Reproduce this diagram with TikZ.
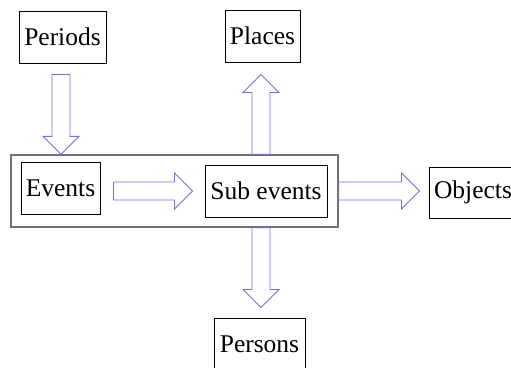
\documentclass[tikz,border=0pt]{standalone}
\usepackage{fontspec}
\setmainfont{Liberation Serif}
\newfontfamily\diafont{Liberation Serif}
\usetikzlibrary{calc}
\definecolor{arrowblue}{RGB}{112,112,214}
\definecolor{framegray}{RGB}{112,112,120}
\tikzset{
  box/.style={draw=black, line width=1pt, inner sep=0pt, font=\diafont\fontsize{25.5}{30}\selectfont},
  outerbox/.style={draw=framegray, line width=1.4pt, inner sep=0pt},
  arr/.style={draw=arrowblue, line width=0.9pt, line join=miter},
}
\begin{document}
\begin{tikzpicture}[x=1pt,y=1pt]
\useasboundingbox (0,0) rectangle (511,-367);
% nodes
\node[outerbox, minimum width=327pt, minimum height=72pt] (outer) at (174.5,-191) {};
\node[box, minimum width=87pt, minimum height=52pt] (periods) at (62.5,-37) {Periods};
\node[box, minimum width=75pt, minimum height=52pt] (places) at (262.5,-36) {Places};
\node[box, minimum width=79pt, minimum height=52pt] (events) at (60.5,-188) {Events};
\node[box, minimum width=122pt, minimum height=52pt] (sub) at (266,-191) {Sub events};
\node[box, minimum width=88pt, minimum height=51pt] (objects) at (473,-192.5) {Objects};
\node[box, minimum width=91pt, minimum height=52pt] (persons) at (259.5,-344) {Persons};
% arrow end points
\coordinate (a1s) at ($(periods.south)+(-1.5,-11)$);
\coordinate (a1e) at (a1s |- outer.north);
\coordinate (a2s) at ($(sub.north)+(-5,0)$);
\coordinate (a2s) at (a2s |- outer.north);
\coordinate (a2e) at ($(places.south)+(-1.5,-12)$);
\coordinate (a3s) at (a2s |- outer.south);
\coordinate (a3e) at ($(persons.north)+(1.5,10)$);
\coordinate (a3e) at (a2s |- a3e);
\coordinate (a4s) at ($(events.east)+(13,-3)$);
\coordinate (a4e) at ($(sub.west)+(-12,0)$);
\coordinate (a5s) at (outer.east |- sub.west);
\coordinate (a5e) at ($(objects.west)+(-9,1.5)$);
% down arrows
\draw[arr] ($(a1s)+(-9,0)$) -- ($(a1e)+(-9,18)$) -- ($(a1e)+(-18,18)$) -- (a1e)
  -- ($(a1e)+(18,18)$) -- ($(a1e)+(9,18)$) -- ($(a1s)+(9,0)$) -- cycle;
\draw[arr] ($(a3s)+(-9,0)$) -- ($(a3e)+(-9,18)$) -- ($(a3e)+(-18,18)$) -- (a3e)
  -- ($(a3e)+(18,18)$) -- ($(a3e)+(9,18)$) -- ($(a3s)+(9,0)$) -- cycle;
% up arrow
\draw[arr] ($(a2s)+(-9,0)$) -- ($(a2e)+(-9,-18)$) -- ($(a2e)+(-18,-18)$) -- (a2e)
  -- ($(a2e)+(18,-18)$) -- ($(a2e)+(9,-18)$) -- ($(a2s)+(9,0)$) -- cycle;
% right arrows
\draw[arr] ($(a4s)+(0,9)$) -- ($(a4e)+(-18,9)$) -- ($(a4e)+(-18,18)$) -- (a4e)
  -- ($(a4e)+(-18,-18)$) -- ($(a4e)+(-18,-9)$) -- ($(a4s)+(0,-9)$) -- cycle;
\draw[arr] ($(a5s)+(0,9)$) -- ($(a5e)+(-18,9)$) -- ($(a5e)+(-18,18)$) -- (a5e)
  -- ($(a5e)+(-18,-18)$) -- ($(a5e)+(-18,-9)$) -- ($(a5s)+(0,-9)$) -- cycle;
\end{tikzpicture}
\end{document}
